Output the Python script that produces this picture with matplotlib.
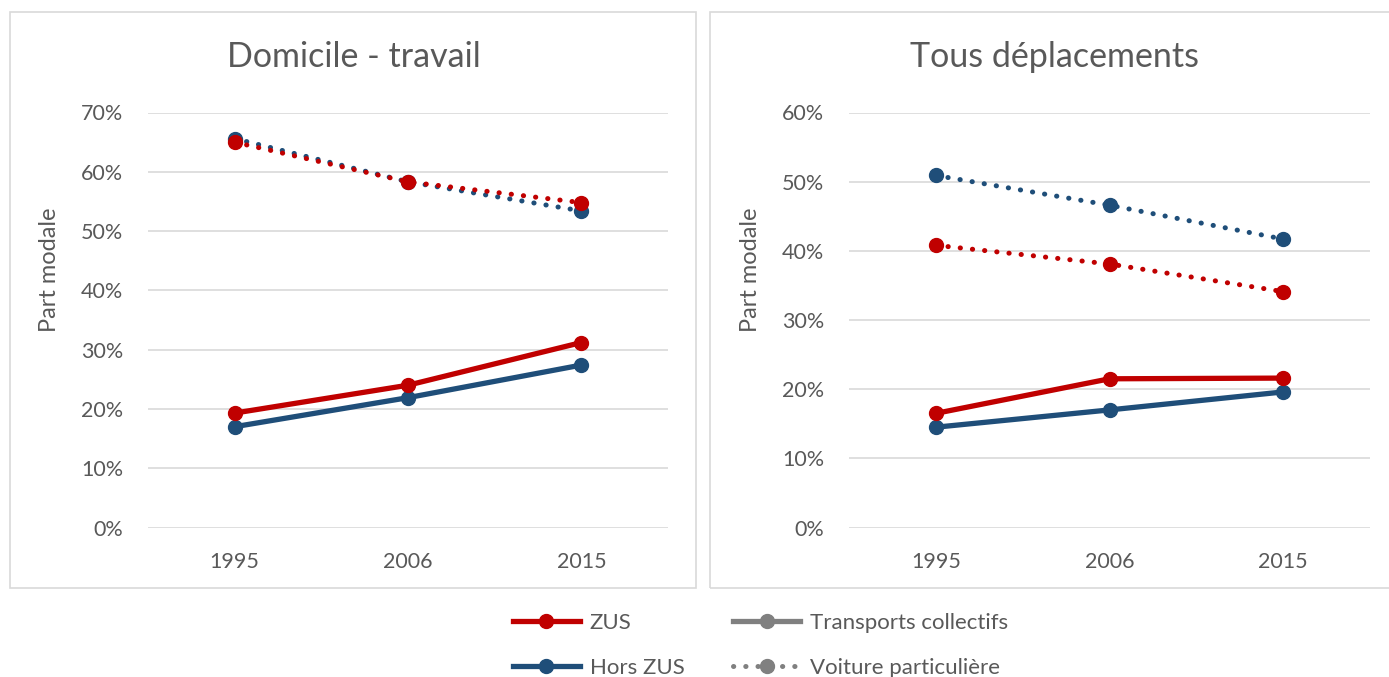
import matplotlib
matplotlib.use("Agg")
import matplotlib.pyplot as plt
from matplotlib.lines import Line2D
from matplotlib.patches import Rectangle
from matplotlib.ticker import FuncFormatter, MultipleLocator

plt.rcParams['font.family'] = ['Lato', 'DejaVu Sans']

years = ["1995", "2006", "2015"]

# Domicile - travail (part modale, %)
dt_tc_zus = [19.3, 24.0, 31.2]
dt_tc_hors = [17.0, 21.9, 27.4]
dt_vp_zus = [65.0, 58.3, 54.8]
dt_vp_hors = [65.6, 58.3, 53.4]

# Tous déplacements (part modale, %)
td_tc_zus = [16.5, 21.5, 21.6]
td_tc_hors = [14.5, 17.0, 19.6]
td_vp_zus = [40.8, 38.1, 34.1]
td_vp_hors = [50.9, 46.6, 41.7]

titles = ["Domicile - travail", "Tous déplacements"]
ymax = [70, 60]

RED = "#C00000"
BLUE = "#1F4E79"
GREY = "#808080"
TXT = "#595959"
GRID = "#D9D9D9"

W, H = 1389, 677
fig = plt.figure(figsize=(W / 100, H / 100), dpi=100)

def fx(px):
    return px / W

def fy(py):
    return 1 - py / H

# panel frames
for x0, x1 in [(10, 696), (710, 1398)]:
    fig.patches.append(Rectangle((fx(x0), fy(588)), fx(x1 - x0), (588 - 12) / H,
                                 transform=fig.transFigure, fill=False,
                                 edgecolor=GRID, linewidth=1.2))

axes_px = [(148, 668), (849, 1370)]
data = [
    (dt_tc_hors, dt_tc_zus, dt_vp_hors, dt_vp_zus),
    (td_tc_hors, td_tc_zus, td_vp_hors, td_vp_zus),
]
title_x = [354, 1055]
ylabel_x = [50, 750]

dotted = (0, (0.05, 2.4))
for i, ((x0, x1), (tch, tcz, vph, vpz)) in enumerate(zip(axes_px, data)):
    ax = fig.add_axes([fx(x0), fy(527.5), fx(x1 - x0), (527.5 - 112.5) / H])
    x = range(len(years))
    ax.plot(x, tch, color=BLUE, lw=3.8, marker='o', ms=10, solid_capstyle='round', zorder=3)
    ax.plot(x, tcz, color=RED, lw=3.8, marker='o', ms=10, solid_capstyle='round', zorder=4)
    ax.plot(x, vph, color=BLUE, lw=3.6, ls=dotted, dash_capstyle='round', marker='o', ms=10, zorder=3)
    ax.plot(x, vpz, color=RED, lw=3.6, ls=dotted, dash_capstyle='round', marker='o', ms=10, zorder=4)

    ax.set_xlim(-0.5, 2.5)
    ax.set_ylim(0, ymax[i])
    ax.set_xticks(list(x))
    ax.set_xticklabels(years)
    ax.yaxis.set_major_locator(MultipleLocator(10))
    ax.yaxis.set_major_formatter(FuncFormatter(lambda v, p: f"{v:.0f}%"))
    ax.grid(axis='y', color=GRID, lw=1.2)
    ax.set_axisbelow(True)
    for s in ax.spines.values():
        s.set_visible(False)
    ax.tick_params(length=0, labelsize=15.5, colors=TXT)
    ax.tick_params(axis='y', pad=18)
    ax.tick_params(axis='x', pad=18)
    ax.set_ylabel("Part modale", fontsize=17, color=TXT)
    # place the axis title in pixel terms
    lx = (ylabel_x[i] - x0) / (x1 - x0)
    ly = (527.5 - 270) / (527.5 - 112.5)
    ax.yaxis.set_label_coords(lx, ly)
    ax.yaxis.label.set_va('center')
    ax.patch.set_alpha(0)
    for ln in ax.lines:
        ln.set_clip_on(False)
    fig.text(fx(title_x[i]), fy(57), titles[i], ha='center', va='center',
             fontsize=24.5, color=TXT)

handles = [
    Line2D([], [], color=RED, lw=3.8, marker='o', ms=10),
    Line2D([], [], color=BLUE, lw=3.8, marker='o', ms=10),
    Line2D([], [], color=GREY, lw=3.8, marker='o', ms=10),
    Line2D([], [], color=GREY, lw=3.6, ls=dotted, dash_capstyle='round', marker='o', ms=10),
]
labels = ["ZUS", "Hors ZUS", "Transports collectifs", "Voiture particulière"]
leg = fig.legend(handles, labels, loc='upper left', bbox_to_anchor=(fx(513), fy(613)),
                 ncol=2, frameon=False, fontsize=16, handlelength=3.0,
                 handletextpad=0.45, columnspacing=2.2, labelspacing=1.13,
                 borderaxespad=0, borderpad=0)
for t in leg.get_texts():
    t.set_color(TXT)

fig.savefig("out.png", dpi=100)
